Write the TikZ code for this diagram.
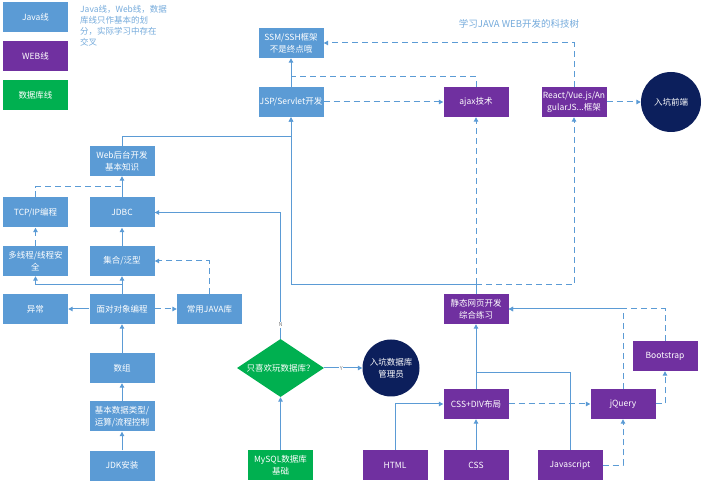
\documentclass[tikz,border=0pt]{standalone}
\usepackage{fontspec}
\setmainfont{Noto Sans CJK SC}
\usetikzlibrary{shapes.geometric,arrows.meta}
\definecolor{jblue}{HTML}{5B9BD5}
\definecolor{wpurple}{HTML}{7030A0}
\definecolor{dgreen}{HTML}{00B050}
\definecolor{navy}{HTML}{0C1F5C}
\definecolor{lnk}{HTML}{5B9BD5}
\tikzset{
  box/.style={rectangle,minimum width=65pt,minimum height=30pt,inner sep=0pt,
    text=white,align=center,font=\fontsize{8.5}{12}\selectfont},
  jbox/.style={box,fill=jblue},
  wbox/.style={box,fill=wpurple},
  gbox/.style={box,fill=dgreen},
  endc/.style={circle,fill=navy,text=white,align=center,inner sep=0pt,
    font=\fontsize{8.5}{12}\selectfont},
  link/.style={draw=lnk,line width=1pt,-{Triangle[length=4.5pt,width=4.5pt]}},
  plain/.style={draw=lnk,line width=1pt},
  dsh/.style={dash pattern=on 6pt off 4pt},
  yn/.style={fill=white,inner sep=0.6pt,text=gray,font=\fontsize{5.5}{6}\selectfont},
}
\begin{document}
\begin{tikzpicture}[x=1pt,y=-1pt]
\useasboundingbox (0,0) rectangle (702,486);
% legend
\node[jbox] (lj) at (35.5,17) {Java线};
\node[wbox] (lw) at (35.5,56) {WEB线};
\node[gbox] (lg) at (35.5,95) {数据库线};
\node[anchor=north west,align=left,text=jblue!85,inner sep=0pt,
  font=\fontsize{8.5}{11}\selectfont] (note) at (80,5)
  {Java线，Web线，数据\\库线只作基本的划\\分，实际学习中存在\\交叉};
\node[text=jblue!85,font=\fontsize{9.5}{11}\selectfont] (title) at (519,24) {学习JAVA WEB开发的科技树};
% java line
\node[jbox] (ssm) at (291,43) {SSM/SSH框架\\不是终点哦};
\node[jbox] (jsp) at (291,102) {JSP/Servlet开发};
\node[jbox] (web) at (122,161) {Web后台开发\\基本知识};
\node[jbox] (jdbc) at (122,212.5) {JDBC};
\node[jbox] (tcp) at (35.5,212.5) {TCP/IP编程};
\node[jbox] (mt) at (35.5,261) {多线程/线程安\\全};
\node[jbox] (coll) at (122,261) {集合/泛型};
\node[jbox] (exc) at (35.5,309) {异常};
\node[jbox] (oop) at (122,309) {面对对象编程};
\node[jbox] (lib) at (209.5,309) {常用JAVA库};
\node[jbox] (arr) at (122,368) {数组};
\node[jbox] (basic) at (122,416.5) {基本数据类型/\\运算/流程控制};
\node[jbox] (jdk) at (122,465.5) {JDK安装};
% database line
\node[diamond,aspect=1.5,fill=dgreen,text=white,inner sep=0pt,minimum width=87pt,
  minimum height=58pt,font=\fontsize{8.5}{12}\selectfont] (dia) at (280.5,368) {只喜欢玩数据库？};
\node[endc,minimum size=57pt] (dba) at (391,368) {入坑数据库\\管理员};
\node[gbox] (mysql) at (280.5,465) {MySQL数据库\\基础};
% web line
\node[wbox] (ajax) at (476,102) {ajax技术};
\node[wbox] (react) at (574,102) {React/Vue.js/An\\gularJS...框架};
\node[endc,minimum size=60pt] (fe) at (671,102) {入坑前端};
\node[wbox] (static) at (476,309) {静态网页开发\\综合练习};
\node[wbox] (cssdiv) at (476,404) {CSS+DIV布局};
\node[wbox] (jq) at (623,404) {jQuery};
\node[wbox] (bs) at (665,356) {Bootstrap};
\node[wbox] (html) at (395,465) {HTML};
\node[wbox] (css) at (476,465) {CSS};
\node[wbox] (js) at (570,465) {Javascript};
% helper coordinates
\coordinate (tw) at (122,187);
\coordinate (wj) at (291,137);
\coordinate (sj) at (476,285);
\coordinate (aj) at (291,77);
\coordinate (jsj) at (476,373);
% java connectors
\draw[link] (jdk) -- (basic);
\draw[link] (basic) -- (arr);
\draw[link] (arr) -- (oop);
\draw[link] (oop) -- (exc);
\draw[link,dsh] (oop) -- (lib);
\draw[link] (oop) -- (coll);
\draw[link] (oop.north) -- ++(0,-9) -| (mt.south);
\draw[link,dsh] (lib.north) |- (coll.east);
\draw[link] (coll) -- (jdbc);
\draw[link,dsh] (mt) -- (tcp);
\draw[link] (jdbc) -- (web);
\draw[plain,dsh] (tcp.north) |- (tw);
\draw[link] (dia.north) |- node[yn,pos=0.055] (nlab) {N} (jdbc.east);
\draw[link] (web.north) |- (wj) -- (jsp.south);
\draw[link] (jsp) -- (ssm);
\draw[link,dsh] (jsp) -- (ajax);
\draw[plain,dsh] (ajax.north) |- (aj);
\draw[link,dsh] (react.north) |- (ssm.east);
\draw[link,dsh] (react) -- (fe);
% database connectors
\draw[link] (mysql) -- (dia);
\draw[link] (dia) -- node[yn,pos=0.45] (ylab) {Y} (dba);
% web connectors
\draw[plain] (static.north) -- (sj);
\draw[link] (sj) -| (jsp.south);
\draw[link,dsh] (sj) -| (react.south);
\draw[link,dsh] (static) -- (ajax);
\draw[link] (cssdiv) -- (static);
\draw[link] (css) -- (cssdiv);
\draw[link] (html.north) |- (cssdiv.west);
\draw[plain] (js.north) |- (jsj);
\draw[link,dsh] (cssdiv) -- (jq);
\draw[link,dsh] (js.east) -| (jq.south);
\draw[link,dsh] (jq.north) |- (static.east);
\draw[link,dsh] (jq.east) -| (bs.south);
\draw[link,dsh] (bs.north) |- (static.east);
\end{tikzpicture}
\end{document}
